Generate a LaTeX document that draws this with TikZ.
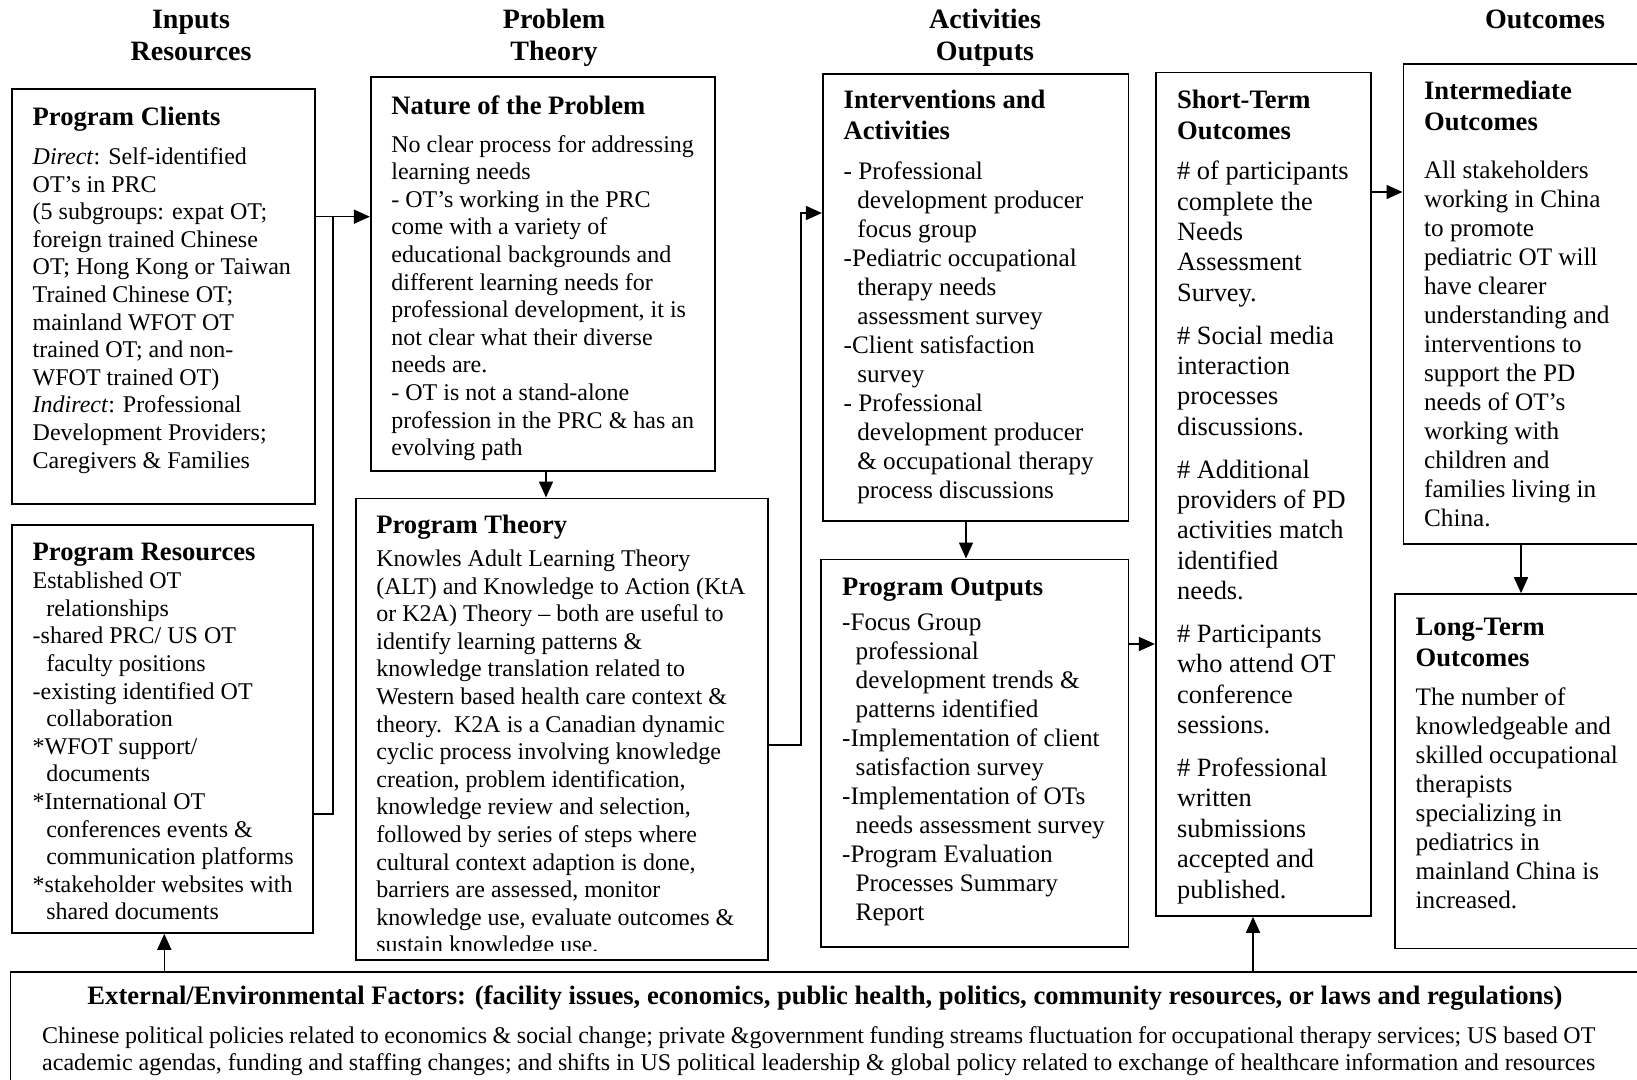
\documentclass[tikz,border=0pt]{standalone}
\usepackage{fontspec}
\setmainfont{Liberation Serif}
\usetikzlibrary{arrows.meta,fit}

% one unit = one pixel of a 1637 x 1080 canvas, y grows downwards
\tikzset{
  x=0.5pt, y=-0.5pt,
  box/.style={draw, line width=0.8pt, inner sep=0pt},
  txtbase/.style={anchor=north west, inner sep=0pt, align=left},
  ttl/.style={txtbase, font=\fontsize{13.3}{15.3}\selectfont\bfseries},
  bodyA/.style={txtbase, font=\fontsize{12}{13.8}\selectfont},
  bodyB/.style={txtbase, font=\fontsize{12.6}{14.5}\selectfont},
  bodyC/.style={txtbase, font=\fontsize{13.2}{15.2}\selectfont},
  bodyD/.style={txtbase, font=\fontsize{12}{13.3}\selectfont},
  hdr/.style={anchor=north, inner sep=0pt, align=center, font=\fontsize{14}{16.1}\selectfont\bfseries},
  conn/.style={line width=0.8pt},
  arr/.style={conn, -{Triangle[length=8pt,width=7pt]}},
}
% strut that puts the top of every text block 12pt above its first baseline
\newcommand\fl{\rule{0pt}{12pt}}
\newcommand\ind{\hspace*{6.8pt}}

\begin{document}
\begin{tikzpicture}
\useasboundingbox[fill=white] (0,0) rectangle (1637,1080);
\clip (0,0) rectangle (1637,1080);

% ---- column headings
\node[hdr] (hInputs)   at (191,4)  {\fl Inputs\\Resources};
\node[hdr] (hProblem)  at (554,4)  {\fl Problem\\Theory};
\node[hdr] (hActivity) at (985,4)  {\fl Activities\\Outputs};
\node[hdr] (hOutcomes) at (1545,4) {\fl Outcomes};

% ---- boxes
\node[box, fit={(11.7,89.3) (315,504)}]     (clients)   {};
\node[box, fit={(11.7,525) (313,933)}]      (resources) {};
\node[box, fit={(370.7,77.3) (715,470.7)}]  (nature)    {};
\node[box, fit={(355.7,498.3) (767.7,960)}] (theory)    {};
\node[box, fit={(822.7,74) (1128.3,520.7)}] (interv)    {};
\node[box, fit={(821,559.3) (1128.3,946.7)}] (outputs)  {};
\node[box, fit={(1155.7,72.7) (1370.7,916)}] (shortt)   {};
\node[box, fit={(1403.3,64) (1660,544)}]    (interm)    {};
\node[box, fit={(1395,594) (1660,948.3)}]   (longt)     {};
\node[box, fit={(10.4,972) (1660,1110)}]    (external)  {};

% ---- Program Clients
\node[ttl] (clientsT) at (32.3,101) {\fl Program Clients};
\node[bodyA] (clientsB) at (32.3,140) {\fl \textit{Direct}: Self-identified\\
OT’s in PRC\\
(5 subgroups: expat OT;\\
foreign trained Chinese\\
OT; Hong Kong or Taiwan\\
Trained Chinese OT;\\
mainland WFOT OT\\
trained OT; and non-\\
WFOT trained OT)\\
\textit{Indirect}: Professional\\
Development Providers;\\
Caregivers \& Families};

% ---- Program Resources
\node[ttl] (resourcesT) at (32.3,536) {\fl Program Resources};
\node[bodyA] (resourcesB) at (32.3,564.3) {\fl Established OT\\
\ind relationships\\
-shared PRC/ US OT\\
\ind faculty positions\\
-existing identified OT\\
\ind collaboration\\
*WFOT support/\\
\ind documents\\
*International OT\\
\ind conferences events \&\\
\ind communication platforms\\
*stakeholder websites with\\
\ind shared documents};

% ---- Nature of the Problem
\node[ttl] (natureT) at (391,90) {\fl Nature of the Problem};
\node[bodyA] (natureB) at (391,127.7) {\fl No clear process for addressing\\
learning needs\\
- OT’s working in the PRC\\
come with a variety of\\
educational backgrounds and\\
different learning needs for\\
professional development, it is\\
not clear what their diverse\\
needs are.\\
- OT is not a stand-alone\\
profession in the PRC \& has an\\
evolving path};

% ---- Program Theory (last line runs into the frame)
\node[ttl] (theoryT) at (376,509.3) {\fl Program Theory};
\begin{scope}
\clip (355.7,498.3) rectangle (767.7,950);
\node[bodyA] (theoryB) at (376,542) {\fl Knowles Adult Learning Theory\\
(ALT) and Knowledge to Action (KtA\\
or K2A) Theory – both are useful to\\
identify learning patterns \&\\
knowledge translation related to\\
Western based health care context \&\\
theory.\ \ K2A is a Canadian dynamic\\
cyclic process involving knowledge\\
creation, problem identification,\\
knowledge review and selection,\\
followed by series of steps where\\
cultural context adaption is done,\\
barriers are assessed, monitor\\
knowledge use, evaluate outcomes \&\\
sustain knowledge use.};
\end{scope}

% ---- Interventions and Activities
\node[ttl] (intervT) at (843.3,84.3) {\fl Interventions and\\Activities};
\node[bodyB] (intervB) at (843.3,155.3) {\fl - Professional\\
\ind development producer\\
\ind focus group\\
-Pediatric occupational\\
\ind therapy needs\\
\ind assessment survey\\
-Client satisfaction\\
\ind survey\\
- Professional\\
\ind development producer\\
\ind \& occupational therapy\\
\ind process discussions};

% ---- Program Outputs
\node[ttl] (outputsT) at (841.7,571) {\fl Program Outputs};
\node[bodyB] (outputsB) at (841.7,606) {\fl -Focus Group\\
\ind professional\\
\ind development trends \&\\
\ind patterns identified\\
-Implementation of client\\
\ind satisfaction survey\\
-Implementation of OTs\\
\ind needs assessment survey\\
-Program Evaluation\\
\ind Processes Summary\\
\ind Report};

% ---- Short-Term Outcomes
\node[ttl] (shorttT) at (1176.7,84.3) {\fl Short-Term\\Outcomes};
\node[bodyC] (shorttB) at (1176.7,155.3) {\fl \# of participants\\
complete the\\
Needs\\
Assessment\\
Survey.\\[6.2pt]
\# Social media\\
interaction\\
processes\\
discussions.\\[6.2pt]
\# Additional\\
providers of PD\\
activities match\\
identified\\
needs.\\[6.2pt]
\# Participants\\
who attend OT\\
conference\\
sessions.\\[6.2pt]
\# Professional\\
written\\
submissions\\
accepted and\\
published.};

% ---- Intermediate Outcomes
\node[ttl] (intermT) at (1423.7,75.3) {\fl Intermediate\\Outcomes};
\node[bodyB] (intermB) at (1423.7,154.3) {\fl All stakeholders\\
working in China\\
to promote\\
pediatric OT will\\
have clearer\\
understanding and\\
interventions to\\
support the PD\\
needs of OT’s\\
working with\\
children and\\
families living in\\
China.};

% ---- Long-Term Outcomes
\node[ttl] (longtT) at (1415.3,611) {\fl Long-Term\\Outcomes};
\node[bodyB] (longtB) at (1415.3,681) {\fl The number of\\
knowledgeable and\\
skilled occupational\\
therapists\\
specializing in\\
pediatrics in\\
mainland China is\\
increased.};

% ---- External/Environmental Factors
\node[anchor=base, inner sep=0pt, font=\fontsize{13.3}{15.3}\selectfont\bfseries] (externalT) at (825,1004)
  {External/Environmental Factors: (facility issues, economics, public health, politics, community resources, or laws and regulations)};
\node[bodyD] (externalB) at (41.8,1019) {\fl \makebox[776.5pt][s]{Chinese political policies related to economics \& social change; private \&government funding streams fluctuation for occupational therapy services; US based OT}\\
\makebox[776.5pt][s]{academic agendas, funding and staffing changes; and shifts in US political leadership \& global policy related to exchange of healthcare information and resources}};

% ---- connectors
\coordinate (j1) at (333,216.7);
\coordinate (j2) at (333,814);
\draw[arr] (clients.east |- j1) -- (nature.west |- j1);
\draw[conn] (resources.east |- j2) -- (j2) -- (j1);

\coordinate (n1) at (546,0);
\draw[arr] (nature.south -| n1) -- (theory.north -| n1);

\coordinate (k1) at (801,745);
\coordinate (k2) at (801,213);
\draw[arr] (theory.east |- k1) -- (k1) -- (k2) -- (interv.west |- k2);

\coordinate (n2) at (966,0);
\draw[arr] (interv.south -| n2) -- (outputs.north -| n2);

\coordinate (n3) at (0,644);
\draw[arr] (outputs.east |- n3) -- (shortt.west |- n3);

\coordinate (n4) at (0,192);
\draw[arr] (shortt.east |- n4) -- (interm.west |- n4);

\coordinate (n5) at (1521,0);
\draw[arr] (interm.south -| n5) -- (longt.north -| n5);

\coordinate (n6) at (164.3,0);
\draw[arr] (external.north -| n6) -- (resources.south -| n6);

\coordinate (n7) at (1253,0);
\draw[arr] (external.north -| n7) -- (shortt.south -| n7);
\end{tikzpicture}
\end{document}
